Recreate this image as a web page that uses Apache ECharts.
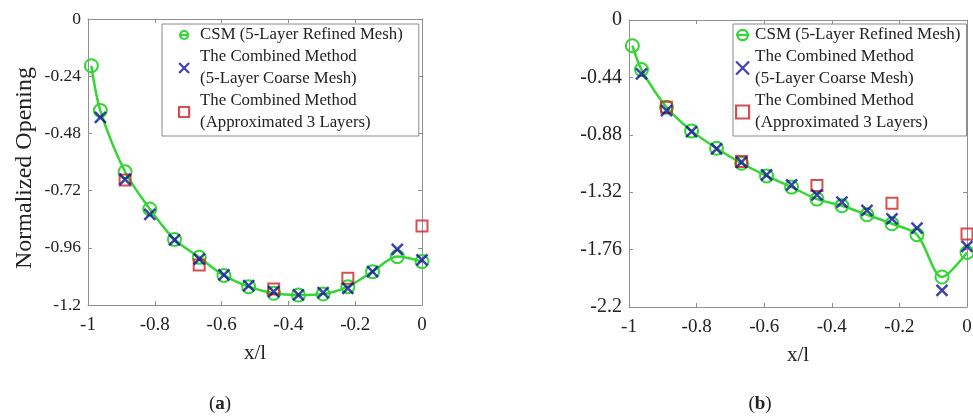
<!DOCTYPE html>
<html>
<head>
<meta charset="utf-8">
<script src="https://cdn.jsdelivr.net/npm/echarts@6/dist/echarts.min.js"></script>
<style>
html,body{margin:0;padding:0;background:#fff;}
#chart{width:973px;height:417px;}
</style>
</head>
<body>
<div id="chart"></div>
<script>
// ---- data ----
const xCSM = [-0.99, -0.963, -0.889, -0.815, -0.741, -0.667, -0.593, -0.519, -0.444, -0.370, -0.296, -0.222, -0.148, -0.074, 0];
const xCM = [-0.963, -0.889, -0.815, -0.741, -0.667, -0.593, -0.519, -0.444, -0.370, -0.296, -0.222, -0.148, -0.074, 0];
const xApprox = [-0.889, -0.667, -0.444, -0.222, 0];

const csmA = [-0.196, -0.384, -0.641, -0.797, -0.925, -1.000, -1.076, -1.123, -1.151, -1.158, -1.154, -1.123, -1.060, -0.997, -1.018];
const cmA = [-0.413, -0.673, -0.820, -0.927, -1.008, -1.074, -1.119, -1.144, -1.158, -1.148, -1.130, -1.060, -0.967, -1.011];
const apA = [-0.676, -1.032, -1.133, -1.088, -0.869];

const csmB = [-0.197, -0.380, -0.669, -0.850, -0.983, -1.098, -1.195, -1.281, -1.373, -1.424, -1.493, -1.562, -1.646, -1.970, -1.782];
const cmB = [-0.413, -0.694, -0.855, -0.988, -1.090, -1.187, -1.263, -1.340, -1.396, -1.460, -1.524, -1.595, -2.073, -1.736];
const apB = [-0.669, -1.085, -1.269, -1.404, -1.641];

const seriesNames = ['CSM (5-Layer Refined Mesh)', 'The Combined Method\n(5-Layer Coarse Mesh)', 'The Combined Method\n(Approximated 3 Layers)'];
const xTicks = { min: -1, max: 0, interval: 0.2 };
const yTicksA = { min: -1.2, max: 0, interval: 0.24 };
const yTicksB = { min: -2.2, max: 0, interval: 0.44 };
const panelLabels = ['a', 'b'];
const xTitle = 'x/l';
const yTitle = 'Normalized Opening';

// ---- styling ----
const FONT = '"Liberation Serif", "Times New Roman", serif';
const GREEN = '#33d633';
const BLUE = '#10109c';
const RED = '#cc2424';
const AXIS = '#8f8f8f';
const TXT = '#222';

function zip(xs, ys) { return xs.map((x, i) => [x, ys[i]]); }
function fmt(v) { return String(+(+v).toFixed(2)); }

function xAxes(gi) {
  return [
    { type: 'value', gridIndex: gi, position: 'bottom', min: xTicks.min, max: xTicks.max, interval: xTicks.interval,
      axisLine: { show: true, onZero: false, lineStyle: { color: AXIS, width: 1 } },
      axisTick: { show: true, inside: true, length: 4, lineStyle: { color: AXIS } },
      axisLabel: { color: TXT, fontFamily: FONT, fontSize: 19, margin: 11, formatter: fmt },
      splitLine: { show: false },
      name: xTitle, nameLocation: 'middle', nameGap: 38,
      nameTextStyle: { color: TXT, fontFamily: FONT, fontSize: 21 } },
    { type: 'value', gridIndex: gi, position: 'top', min: xTicks.min, max: xTicks.max, interval: xTicks.interval,
      axisLine: { show: true, onZero: false, lineStyle: { color: AXIS, width: 1 } },
      axisTick: { show: true, inside: true, length: 4, lineStyle: { color: AXIS } },
      axisLabel: { show: false }, splitLine: { show: false } }
  ];
}
function yAxes(gi, t, withName, fs) {
  const main = { type: 'value', gridIndex: gi, position: 'left', min: t.min, max: t.max, interval: t.interval,
    axisLine: { show: true, onZero: false, lineStyle: { color: AXIS, width: 1 } },
    axisTick: { show: true, inside: true, length: 4, lineStyle: { color: AXIS } },
    axisLabel: { color: TXT, fontFamily: FONT, fontSize: fs, margin: 7, formatter: fmt },
    splitLine: { show: false } };
  if (withName) {
    main.name = yTitle; main.nameLocation = 'middle'; main.nameGap = 51;
    main.nameTextStyle = { color: TXT, fontFamily: FONT, fontSize: 24, padding: [0, 12, 0, 0] };
  }
  return [main,
    { type: 'value', gridIndex: gi, position: 'right', min: t.min, max: t.max, interval: t.interval,
      axisLine: { show: true, onZero: false, lineStyle: { color: AXIS, width: 1 } },
      axisTick: { show: true, inside: true, length: 4, lineStyle: { color: AXIS } },
      axisLabel: { show: false }, splitLine: { show: false } }];
}

function seriesFor(ai, csm, cm, ap) {
  const xi = ai * 2, yi = ai * 2;
  return [
    { name: seriesNames[0], type: 'line', xAxisIndex: xi, yAxisIndex: yi, data: zip(xCSM, csm),
      smooth: 0.3, symbol: 'circle', symbolSize: 13, clip: false, z: 2,
      lineStyle: { color: GREEN, width: 2.5 },
      itemStyle: { color: 'rgba(0,0,0,0)', borderColor: GREEN, borderWidth: 2 } },
    { name: seriesNames[2], type: 'scatter', xAxisIndex: xi, yAxisIndex: yi, data: zip(xApprox, ap),
      symbol: 'rect', symbolSize: 11, clip: false, z: 3,
      itemStyle: { color: 'rgba(0,0,0,0)', borderColor: RED, borderWidth: 2 } },
    { name: seriesNames[1], type: 'scatter', xAxisIndex: xi, yAxisIndex: yi, data: zip(xCM, cm),
      symbol: 'path://M0,0L10,10M10,0L0,10', symbolSize: 11, clip: false, z: 4,
      itemStyle: { color: 'rgba(0,0,0,0)', borderColor: BLUE, borderWidth: 2.5 } }
  ];
}

function legendFor(left, top, iw, pad, fs, textPad) {
  return {
    orient: 'vertical', left: left, top: top, data: seriesNames,
    itemWidth: iw, itemHeight: iw, itemGap: 0,
    backgroundColor: '#fff', borderColor: '#8a8a8a', borderWidth: 1,
    padding: pad, selectedMode: false,
    itemStyle: { borderWidth: 2.2 },
    textStyle: { color: TXT, fontFamily: FONT, fontSize: fs, lineHeight: 22, padding: [0, 0, 0, textPad] }
  };
}

const chart = echarts.init(document.getElementById('chart'), null, { renderer: 'canvas' });
chart.setOption({
  animation: false,
  backgroundColor: '#fff',
  grid: [
    { left: 88, top: 19, width: 334, height: 286, containLabel: false, outerBoundsMode: 'none' },
    { left: 629, top: 20, width: 338, height: 287, containLabel: false, outerBoundsMode: 'none' }
  ],
  xAxis: [...xAxes(0), ...xAxes(1)],
  yAxis: [...yAxes(0, yTicksA, true, 17.5), ...yAxes(1, yTicksB, false, 20)],
  legend: [
    legendFor(162, 24, 10, [0, 16, 2, 16], 16.8, 6),
    legendFor(733, 24, 13, [0, 6, 2, 2], 17, 1)
  ],
  series: [...seriesFor(0, csmA, cmA, apA), ...seriesFor(1, csmB, cmB, apB)],
  graphic: panelLabels.map((p, i) => ({
    type: 'text', x: i === 0 ? 220 : 760, y: 404,
    style: { text: '({b|' + p + '})', textAlign: 'center', textVerticalAlign: 'middle',
      fontFamily: FONT, fontSize: 19, fill: TXT,
      rich: { b: { fontFamily: FONT, fontSize: 19, fontWeight: 'bold', fill: TXT } } }
  }))
});
</script>
</body>
</html>
